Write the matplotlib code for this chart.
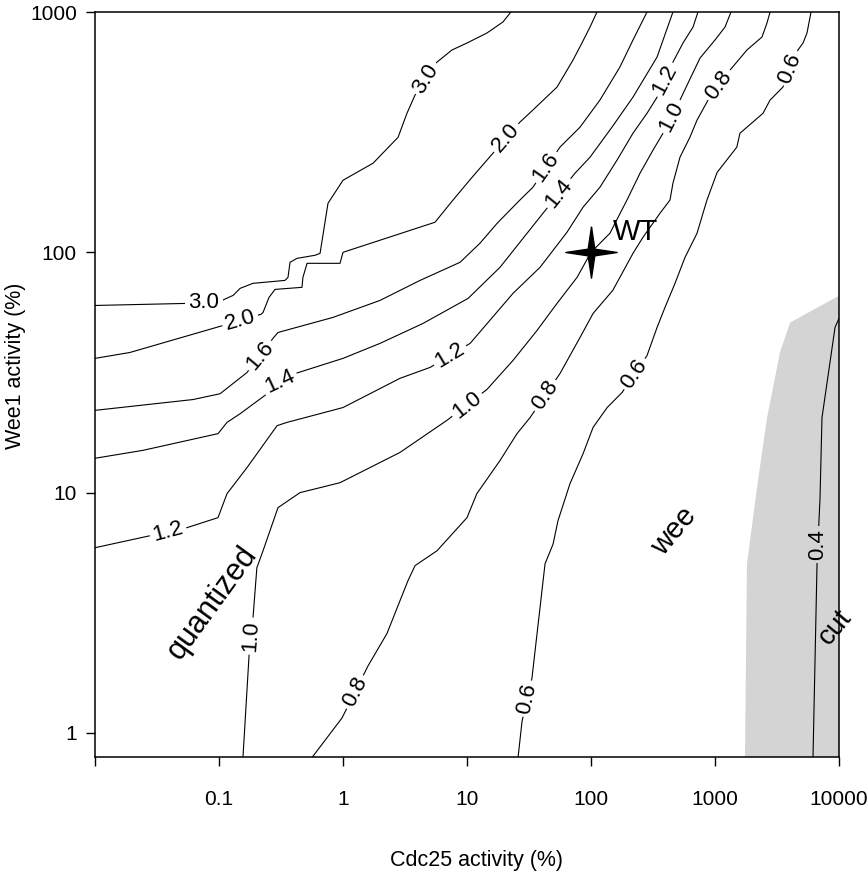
import matplotlib.pyplot as plt
import numpy as np

plt.rcParams['font.family'] = ['Liberation Sans', 'DejaVu Sans']

# contour lines (x = Cdc25 activity %, y = Wee1 activity %)
c30_x = [0.01, 0.055, 0.106, 0.13, 0.148, 0.188, 0.34, 0.36, 0.374, 0.426, 0.594, 0.653,
         0.757, 1.0, 1.75, 2.78, 3.28, 3.81, 5.73, 7.57, 10.0, 14.5, 19.5, 22.6]
c30_y = [60.1, 61.3, 63.1, 66.2, 70.8, 74.3, 76.4, 78.6, 90.9, 94.4, 97.2, 99.0,
         160, 199.5, 235, 301, 379, 451, 619, 695, 743, 818, 909, 1000]

c20_x = [0.01, 0.0191, 0.102, 0.218, 0.2265, 0.253, 0.283, 0.467, 0.475, 0.513, 0.946, 1.0,
         5.52, 7.71, 10.97, 16.2, 26.7, 34.0, 53.2, 71.6, 84.5, 98.2, 111.8]
c20_y = [36.2, 38.3, 49.2, 55.2, 56.2, 64.9, 70.1, 71.5, 78.6, 90.0, 90.0, 100,
         133.4, 165, 205, 258.5, 348, 391, 487, 631, 743, 866, 1000]

c16_x = [0.01, 0.0617, 0.102, 0.168, 0.272, 0.299, 0.83, 1.99, 4.18, 8.79, 12.7, 17.5,
         26.7, 34.0, 56.2, 81.5, 118, 171, 218, 283]
c16_y = [22.0, 24.4, 25.8, 31.6, 43.8, 46.4, 53.6, 63.1, 76.4, 90.9, 109, 132.1,
         165, 186.5, 274, 331.6, 430, 590, 764.5, 1000]

c14_x = [0.01, 0.0244, 0.0982, 0.116, 0.148, 0.235, 0.388, 1.0, 1.99, 4.42, 10.2, 18.45,
         30.5, 41.0, 74.3, 98.2, 147.6, 218, 341, 458]
c14_y = [13.9, 15.0, 17.6, 19.6, 21.3, 25.4, 31.0, 36.2, 41.8, 50.6, 64.3, 86.6,
         120, 145.4, 213.4, 248.8, 331.6, 442.3, 649.4, 1000]

c12_x = [0.01, 0.0552, 0.0982, 0.116, 0.168, 0.294, 0.353, 1.0, 2.88, 5.04, 10.6, 23.5,
         38.8, 64.0, 86.2, 118, 162, 218, 283, 341, 458, 552, 665, 729]
c12_y = [5.90, 7.15, 7.87, 9.9, 12.7, 19.0, 19.6, 22.6, 29.9, 33.2, 41.8, 67.5,
         86.6, 121.2, 154, 186.5, 241.7, 313, 379, 442, 619, 743, 866, 1000]

c10_x = [0.156, 0.175, 0.188, 0.202, 0.2265, 0.299, 0.45, 0.946, 2.88, 6.9, 14.5, 23.5,
         36.7, 53.2, 77.1, 100, 142, 195, 248, 316, 381, 522, 628, 757, 1000, 1205, 1346]
c10_y = [0.79, 2.13, 3.01, 4.87, 5.73, 8.66, 10.0, 11.0, 14.7, 20.0, 26.9, 35.5,
         47.3, 61.3, 78.6, 100, 120, 165, 213, 266, 313, 430, 526, 643, 764.5, 866, 1000]

c08_x = [0.562, 0.982, 1.59, 2.26, 3.34, 3.81, 5.73, 10.0, 12.0, 18.45, 25.3, 32.2,
         56.2, 81.5, 104, 150, 218, 262.5, 360, 433.5, 458, 522, 628, 716, 879, 1321,
         1810, 2393, 2626, 2780]
c08_y = [0.79, 1.155, 1.90, 2.59, 4.30, 4.97, 5.73, 7.87, 9.9, 13.6, 17.6, 20.5,
         31.3, 44.2, 55.7, 69.5, 99.0, 115.5, 145.4, 165, 193.9, 248.8, 301.4, 354.8, 430, 573,
         695, 787, 900, 1000]

c06_x = [25.8, 27.8, 33.4, 42.6, 49.4, 54.2, 67.7, 86.2, 104, 135, 178, 283,
         341, 395, 476, 573, 716, 861, 1040, 1500, 1590, 2440, 2780, 3530, 4670, 5130, 5520, 5950]
c06_y = [0.79, 1.12, 1.69, 5.06, 6.1, 7.65, 10.9, 14.5, 18.7, 22.6, 26.1, 37.2,
         48.7, 59, 74.3, 95.3, 120, 165, 215, 274, 313, 379, 430, 487, 695, 743, 818, 1000]

c04_x = [10000, 9290, 7290, 7030, 6650, 6170]
c04_y = [53.1, 48.7, 20.5, 9.5, 5.06, 0.79]

# grey "cut" region
cut_x = [10000, 4030, 3340, 2630, 2220, 1810, 1745, 10000]
cut_y = [66, 51, 38.3, 20.5, 11.2, 5.06, 0.79, 0.79]

# inline contour labels
label_text = ['3.0', '3.0', '2.0', '2.0', '1.6', '1.6', '1.4', '1.4', '1.2', '1.2', '1.2',
              '1.0', '1.0', '1.0', '0.8', '0.8', '0.8', '0.6', '0.6', '0.6', '0.4']
label_x = [0.0757, 4.67, 0.148, 20.6, 0.214, 43.4, 0.31, 55.2, 0.0388, 7.30, 395,
           0.181, 10.0, 446, 1.25, 42.6, 1077, 30.5, 224, 4030, 6700]
label_y = [62, 528, 52.1, 300, 37.2, 226, 29, 176, 6.88, 37.2, 523,
           2.53, 23.2, 367, 1.48, 25.4, 497, 1.39, 31.2, 584, 6.1]
label_rot = [0, 58, 16, 49, 50, 55, 25, 51, 15, 31, 62,
             86, 38, 63, 63, 56, 54, 78, 56, 68, 90]

wt_x, wt_y = 100, 100

xticks = [0.01, 0.1, 1, 10, 100, 1000, 10000]
xtick_labels = ['', '0.1', '1', '10', '100', '1000', '10000']
yticks = [1, 10, 100, 1000]
ytick_labels = ['1', '10', '100', '1000']

grey = '#d4d4d4'

fig = plt.figure(figsize=(8.68, 8.74), dpi=100)
ax = fig.add_axes([95 / 868, 1 - 757 / 874, 744 / 868, 745 / 874])
ax.set_xscale('log')
ax.set_yscale('log')

ax.fill(cut_x, cut_y, color=grey, lw=0, zorder=1)

contours = [(c30_x, c30_y), (c20_x, c20_y), (c16_x, c16_y), (c14_x, c14_y),
            (c12_x, c12_y), (c10_x, c10_y), (c08_x, c08_y), (c06_x, c06_y),
            (c04_x, c04_y)]
for cx, cy in contours:
    ax.plot(cx, cy, color='black', lw=0.8, zorder=2)

for t, x, y, r in zip(label_text, label_x, label_y, label_rot):
    fc = grey if x > 1745 and y < 60 else 'white'
    ax.text(x, y, t, fontsize=16, rotation=r, rotation_mode='anchor',
            ha='center', va='center', zorder=3,
            bbox=dict(boxstyle='square,pad=0.14', fc=fc, ec='none'))

# 4-pointed star for wild type
s = 0.13
star = [(0, 1), (s, s), (1, 0), (s, -s), (0, -1), (-s, -s), (-1, 0), (-s, s), (0, 1)]
ax.plot([wt_x], [wt_y], marker=star, markersize=37, color='black', lw=0, zorder=4)
ax.text(150, 112, 'WT', fontsize=21, ha='left', va='baseline', zorder=4)

ax.text(0.088, 3.48, 'quantized', fontsize=22, rotation=54, rotation_mode='anchor',
        ha='center', va='center')
ax.text(467, 6.88, 'wee', fontsize=21, rotation=50, rotation_mode='anchor',
        ha='center', va='center')
ax.text(9290, 2.74, 'cut', fontsize=20, rotation=50, rotation_mode='anchor',
        ha='center', va='center', zorder=5)

ax.set_xlim(0.01, 10000)
ax.set_ylim(10 ** -0.1, 1000)
ax.set_xticks(xticks)
ax.set_xticklabels(xtick_labels)
ax.set_yticks(yticks)
ax.set_yticklabels(ytick_labels)
ax.minorticks_off()
ax.tick_params(direction='out', length=6.5, width=1.0, labelsize=15, colors='black')
ax.tick_params(axis='x', pad=17)
ax.tick_params(axis='y', pad=6.5)
for sp in ax.spines.values():
    sp.set_linewidth(1.1)

ax.set_xlabel('Cdc25 activity (%)', fontsize=15.5)
ax.set_ylabel('Wee1 activity (%)', fontsize=15.5)
ax.xaxis.set_label_coords(0.513, -0.125)
ax.yaxis.set_label_coords(-0.093, 0.525)

fig.savefig('out.png', dpi=100)
